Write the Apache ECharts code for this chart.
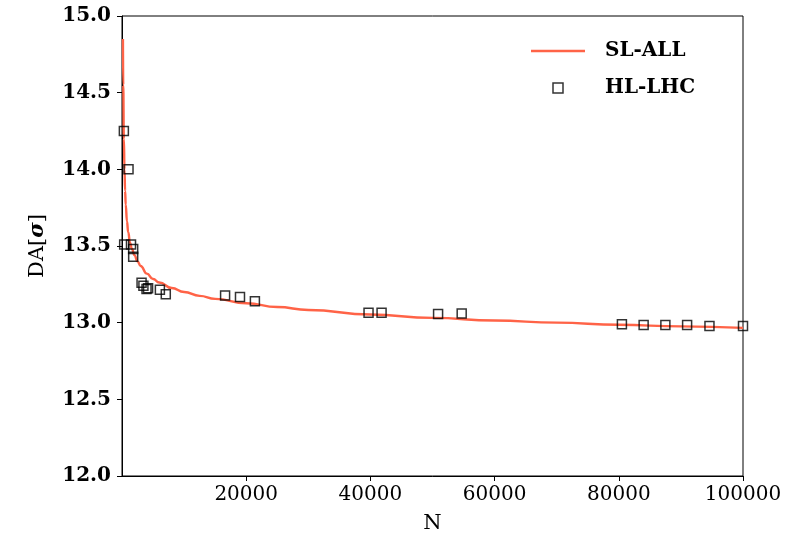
<!DOCTYPE html>
<html>
<head>
<meta charset="utf-8">
<script src="https://cdn.jsdelivr.net/npm/echarts@6/dist/echarts.min.js"></script>
<style>html,body{margin:0;padding:0;background:#fff;}#c{width:805px;height:539px;}</style>
</head>
<body>
<div id="c"></div>
<script>
// SL-ALL fit curve
var curveN = [150, 200, 300, 400, 500, 600, 800, 1000, 1300, 1600, 2000, 2500, 3000, 4000, 5000, 6000, 8000, 10000, 12500, 15000, 20000, 25000, 30000, 40000, 50000, 60000, 70000, 80000, 90000, 100000];
var curveDA = [14.85, 14.55, 14.2, 14.0, 13.86, 13.77, 13.66, 13.59, 13.52, 13.48, 13.44, 13.40, 13.37, 13.32, 13.285, 13.262, 13.226, 13.20, 13.175, 13.155, 13.127, 13.102, 13.083, 13.053, 13.031, 13.014, 13.0, 12.986, 12.976, 12.966];
// HL-LHC points
var hlN = [300, 1050, 350, 1450, 1800, 1800, 3150, 3450, 3950, 4200, 6100, 7050, 16600, 19000, 21400, 39700, 41800, 50900, 54700, 80500, 84000, 87500, 91000, 94600, 100000];
var hlDA = [14.25, 14.0, 13.51, 13.51, 13.48, 13.43, 13.26, 13.24, 13.22, 13.225, 13.215, 13.185, 13.177, 13.167, 13.14, 13.065, 13.065, 13.057, 13.06, 12.99, 12.985, 12.985, 12.985, 12.978, 12.978];
var xTicks = [20000, 40000, 60000, 80000, 100000];

function zip(a, b) { return a.map(function (v, i) { return [v, b[i]]; }); }

var chart = echarts.init(document.getElementById('c'), null, {renderer: 'canvas'});
chart.setOption({
  animation: false,
  backgroundColor: '#fff',
  grid: {left: 122, right: 62, top: 16, bottom: 61, show: true, borderColor: '#000', borderWidth: 1, backgroundColor: 'transparent'},
  legend: {
    orient: 'vertical',
    left: 526,
    top: 36,
    itemWidth: 54,
    itemHeight: 10,
    itemGap: 17,
    textStyle: {fontFamily: 'DejaVu Serif', fontWeight: 'bold', fontSize: 20, color: '#000', padding: [0, 0, 0, 15]},
    data: [
      {name: 'SL-ALL', icon: 'path://M0,0 L54,0 L54,2.4 L0,2.4 Z', itemStyle: {color: '#ff6347', borderWidth: 0}},
      {name: 'HL-LHC', icon: 'path://M0,0 L10,0 L10,10 L0,10 Z', itemStyle: {color: 'rgba(255,255,255,0)', borderColor: '#000', borderWidth: 1.5}}
    ]
  },
  xAxis: {
    type: 'value',
    min: 0, max: 100000,
    name: 'N', nameLocation: 'middle', nameGap: 37,
    nameTextStyle: {fontFamily: 'DejaVu Serif', fontSize: 21, color: '#000'},
    splitLine: {show: false},
    axisLine: {show: true, onZero: false, lineStyle: {color: '#000', width: 1}},
    axisTick: {show: true, inside: false, length: 5, lineStyle: {color: '#000'}, customValues: xTicks},
    axisLabel: {show: true, margin: 9, fontFamily: 'DejaVu Serif', fontSize: 20, color: '#000', customValues: xTicks,
      formatter: function (v) { return String(v); }},
    minorTick: {show: false}
  },
  yAxis: {
    type: 'value',
    min: 12, max: 15, interval: 0.5,
    name: 'DA[{i|σ}]', nameLocation: 'middle', nameGap: 74, nameRotate: 90,
    nameTextStyle: {fontFamily: 'DejaVu Serif', fontSize: 21, color: '#000',
      rich: {i: {fontFamily: 'DejaVu Serif', fontStyle: 'italic', fontWeight: 'bold', fontSize: 21, color: '#000'}}},
    splitLine: {show: false},
    axisLine: {show: true, onZero: false, lineStyle: {color: '#000', width: 1}},
    axisTick: {show: true, inside: false, length: 5, lineStyle: {color: '#000'}},
    axisLabel: {margin: 11, fontFamily: 'DejaVu Serif', fontWeight: 'bold', fontSize: 20, color: '#000',
      formatter: function (v) { return v.toFixed(1); }}
  },
  series: [
    {
      name: 'SL-ALL', type: 'line', data: zip(curveN, curveDA),
      symbol: 'none', smooth: 0.5, smoothMonotone: 'x', clip: true,
      lineStyle: {color: '#ff6347', width: 2.4}, itemStyle: {color: '#ff6347'}, z: 2
    },
    {
      name: 'HL-LHC', type: 'scatter', data: zip(hlN, hlDA),
      symbol: 'rect', symbolSize: 9, clip: true,
      itemStyle: {color: 'rgba(255,255,255,0)', borderColor: '#000', borderWidth: 1.5}, z: 3
    }
  ]
});
</script>
</body>
</html>
